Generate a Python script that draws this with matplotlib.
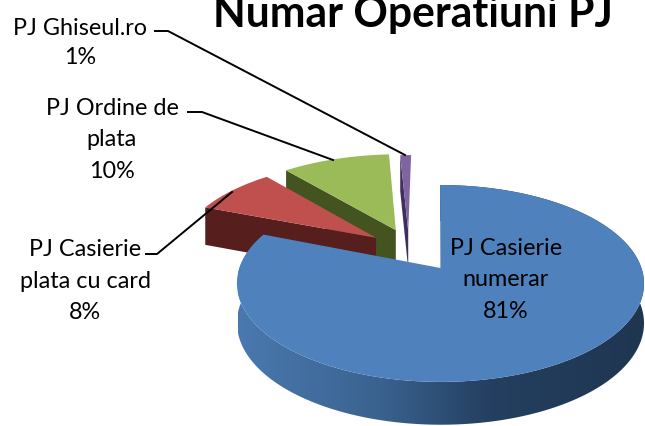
import matplotlib
matplotlib.use('Agg')
import matplotlib.pyplot as plt
import numpy as np
from matplotlib.colors import LinearSegmentedColormap
from matplotlib.patches import Polygon

plt.rcParams['font.family'] = ['Lato', 'DejaVu Sans']

title = 'Numar Operatiuni PJ'
labels = ['PJ Casierie\nnumerar\n81%', 'PJ Casierie\nplata cu card\n8%',
          'PJ Ordine de\nplata\n10%', 'PJ Ghiseul.ro\n1%']
shares = [81, 8, 10, 1]
top_colors = ['#4F81BD', '#C0504D', '#9BBB59', '#8064A2']
side_colors = ['#3A6496', '#561E1C', '#445420', '#3F2F5C']
explode_x = [0.012, -0.32, -0.22, -0.155]
explode_z = [0, 0.34, 0.43, 0.418]

# pixel geometry of the projected disk
CX, CY = 438, 268
R = 201
DEPTH = 39


def wedge(a0, a1, ox, oz, p, ky):
    ang = np.radians(np.linspace(a0, a1, max(int(a1 - a0) * 2, 8)))
    x = np.concatenate([[0], np.sin(ang)]) + ox
    z = np.concatenate([[0], np.cos(ang)]) + oz
    s = 1 / (1 + p * z)
    return CX + R * x * s, CY - ky * z * s, DEPTH * s ** 0.55


fig = plt.figure(figsize=(6.45, 4.26), dpi=100)
ax = fig.add_axes([0, 0, 1, 1])

edges = np.cumsum([0] + shares) * 3.6

# back to front: purple, green, red
for i in [3, 2, 1]:
    sx, sy, d = wedge(edges[i], edges[i + 1], explode_x[i], explode_z[i], 0.112, 92.3)
    ax.fill([sx[0], sx[1], sx[1], sx[0]],
            [sy[0], sy[1], sy[1] + d[1], sy[0] + d[0]], color=side_colors[i], lw=0, zorder=4 - i)
    ax.fill(sx, sy, color=top_colors[i], lw=0, zorder=4 - i)

# blue slice, the rim is shaded left to right
sx, sy, d = wedge(edges[0], edges[1], explode_x[0], explode_z[0], 0.157, 96)
rim = np.concatenate([np.column_stack([sx[1:], sy[1:]]),
                      np.column_stack([sx[1:], sy[1:] + d[1:]])[::-1]])
rim_cmap = LinearSegmentedColormap.from_list(
    'rim', [(0, '#4A79AF'), (0.35, '#3A628F'), (0.62, '#243F60'), (1, '#1F3650')])
grad = ax.imshow(np.linspace(0, 1, 256).reshape(1, -1), cmap=rim_cmap, aspect='auto',
                 extent=[238, 645, 426, 0], zorder=5)
rim_patch = Polygon(rim, closed=True, transform=ax.transData, fc='none', ec='none')
ax.add_patch(rim_patch)
grad.set_clip_path(rim_patch)
ax.fill(sx, sy, color=top_colors[0], lw=0, zorder=6)

# leader lines
ax.plot([155, 168, 405], [31, 31, 155], color='black', lw=1.4, zorder=7)
ax.plot([188, 202, 333], [112, 112, 160], color='black', lw=1.4, zorder=7)
ax.plot([146, 157, 232], [254, 254, 192], color='black', lw=1.4, zorder=7)

ax.text(506, 280, labels[0], ha='center', va='center', fontsize=16.8, linespacing=1.6, zorder=8)
ax.text(85, 281, labels[1], ha='center', va='center', fontsize=16.8, linespacing=1.6, zorder=8)
ax.text(112, 140, labels[2], ha='center', va='center', fontsize=16.8, linespacing=1.6, zorder=8)
ax.text(80, 43, labels[3], ha='center', va='center', fontsize=16.8, linespacing=1.43, zorder=8)
ax.text(413, 27, title, ha='center', va='baseline', fontsize=30.7, fontweight='bold', zorder=8)

ax.set_xlim(0, 645)
ax.set_ylim(426, 0)
ax.axis('off')

fig.savefig('out.png', dpi=100)
